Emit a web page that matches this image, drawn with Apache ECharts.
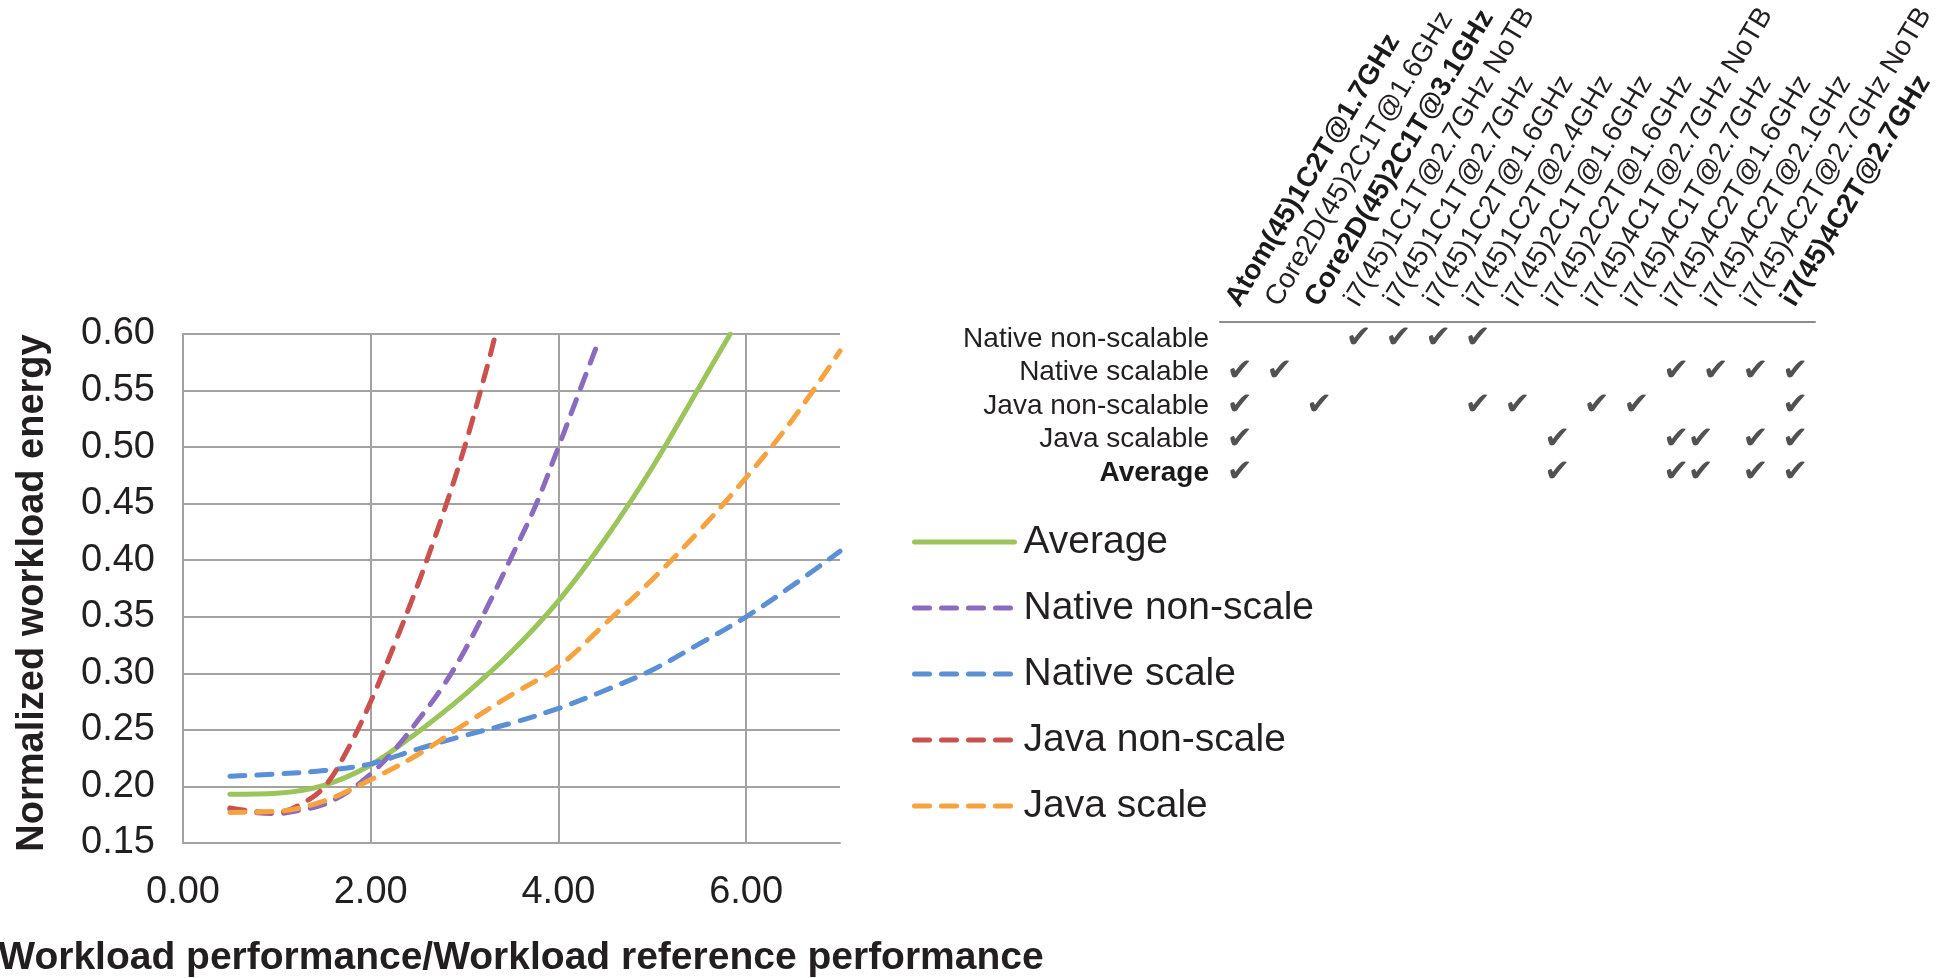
<!DOCTYPE html>
<html><head><meta charset="utf-8">
<script src="https://cdn.jsdelivr.net/npm/echarts@6/dist/echarts.min.js"></script>
<style>html,body{margin:0;padding:0;background:#fff}#c{width:1944px;height:978px}</style>
</head><body><div id="c"></div>
<script>
// ---- curve data (x = workload performance ratio, y = normalized energy)
const xAverage = [0.5, 1.0, 1.5, 2.0, 2.5, 3.0, 3.5, 4.0, 4.5, 5.0, 5.5, 5.83];
const yAverage = [0.193, 0.194, 0.201, 0.219, 0.248, 0.281, 0.319, 0.364, 0.419, 0.482, 0.553, 0.600];

const xNativeNonScale = [0.5, 0.75, 1.0, 1.25, 1.5, 1.75, 2.0, 2.25, 2.5, 2.75, 3.0, 3.25, 3.5, 3.75, 4.0, 4.25, 4.42];
const yNativeNonScale = [0.180, 0.177, 0.176, 0.179, 0.184, 0.195, 0.211, 0.232, 0.258, 0.286, 0.320, 0.360, 0.403, 0.447, 0.500, 0.555, 0.592];

const xNativeScale = [0.5, 1.0, 1.5, 2.0, 2.5, 3.0, 3.5, 4.0, 4.5, 5.0, 5.5, 6.0, 6.5, 7.0];
const yNativeScale = [0.209, 0.211, 0.214, 0.220, 0.233, 0.245, 0.256, 0.269, 0.285, 0.303, 0.326, 0.350, 0.378, 0.408];

const xJavaNonScale = [0.5, 0.75, 1.0, 1.25, 1.5, 1.75, 2.0, 2.25, 2.5, 2.75, 3.0, 3.25, 3.33];
const yJavaNonScale = [0.181, 0.178, 0.177, 0.184, 0.199, 0.232, 0.275, 0.325, 0.378, 0.436, 0.500, 0.574, 0.600];

const xJavaScale = [0.5, 1.0, 1.5, 2.0, 2.5, 3.0, 3.5, 4.0, 4.5, 5.0, 5.5, 6.0, 6.5, 7.0];
const yJavaScale = [0.177, 0.178, 0.187, 0.206, 0.228, 0.255, 0.281, 0.306, 0.344, 0.383, 0.426, 0.473, 0.525, 0.585];

const seriesNames = ['Average', 'Native non-scale', 'Native scale', 'Java non-scale', 'Java scale'];

// ---- axis ticks
const xMin = 0, xMax = 7, xStep = 2;
const yMin = 0.15, yMax = 0.60, yStep = 0.05;

// ---- configuration table
const machines = [
  'Atom(45)1C2T@1.7GHz', 'Core2D(45)2C1T@1.6GHz', 'Core2D(45)2C1T@3.1GHz',
  'i7(45)1C1T@2.7GHz NoTB', 'i7(45)1C1T@2.7GHz', 'i7(45)1C2T@1.6GHz', 'i7(45)1C2T@2.4GHz',
  'i7(45)2C1T@1.6GHz', 'i7(45)2C2T@1.6GHz', 'i7(45)4C1T@2.7GHz NoTB', 'i7(45)4C1T@2.7GHz',
  'i7(45)4C2T@1.6GHz', 'i7(45)4C2T@2.1GHz', 'i7(45)4C2T@2.7GHz NoTB', 'i7(45)4C2T@2.7GHz'
];
const boldMachines = [0, 2, 14];
const tableRows = ['Native non-scalable', 'Native scalable', 'Java non-scalable', 'Java scalable', 'Average'];
const checksNativeNonScalable = [3, 4, 5, 6];
const checksNativeScalable = [0, 1, 11, 12, 13, 14];
const checksJavaNonScalable = [0, 2, 6, 7, 9, 10, 14];
const checksJavaScalable = [0, 8, 11, 12, 13, 14];
const checksAverage = [0, 8, 11, 12, 13, 14];

const colors = ['#9BC45A', '#8A6BBE', '#5B8FD6', '#C9524E', '#F6A23F'];
const FONT = '"Liberation Sans", Arial, sans-serif';
const DASH = [15, 12];

const pairs = (xs, ys) => xs.map((x, i) => [x, ys[i]]);
const curveData = [
  pairs(xAverage, yAverage), pairs(xNativeNonScale, yNativeNonScale), pairs(xNativeScale, yNativeScale),
  pairs(xJavaNonScale, yJavaNonScale), pairs(xJavaScale, yJavaScale)
];
const checkRows = [checksNativeNonScalable, checksNativeScalable, checksJavaNonScalable, checksJavaScalable, checksAverage];
const checkData = [];
checkRows.forEach((cols, r) => cols.forEach(c => {
  // in the original typesetting the tick in column 12 of the last two rows hugs its left neighbour
  const tight = r >= 3 && c === 12;
  checkData.push(tight ? { value: [c, r], label: { offset: [-15, 0] } } : [c, r]);
}));

const lineSeries = seriesNames.map((name, i) => ({
  name, type: 'line', xAxisIndex: 0, yAxisIndex: 0,
  data: curveData[i], smooth: 0.35, symbol: 'none', showSymbol: false, clip: true,
  color: colors[i],
  lineStyle: { color: colors[i], width: 5, type: i === 0 ? 'solid' : DASH, cap: 'round' },
  z: i === 0 ? 3 : 4
}));

const grayGrid = '#a3a3a3';
const chart = echarts.init(document.getElementById('c'), null, { renderer: 'canvas' });
chart.setOption({
  backgroundColor: '#ffffff',
  animation: false,
  grid: [
    { left: 183, top: 334, width: 657, height: 509 },
    { left: 1220, top: 322, width: 595, height: 168 },
    { left: 1213, top: 322, width: 595, height: 1 }
  ],
  xAxis: [
    {
      type: 'value', gridIndex: 0, min: xMin, max: xMax, interval: xStep,
      axisLine: { show: true, lineStyle: { color: grayGrid, width: 2 } },
      axisTick: { show: false },
      axisLabel: { showMaxLabel: false, margin: 31, fontSize: 38, color: '#231f20', fontFamily: FONT,
        formatter: v => v.toFixed(2) },
      splitLine: { show: true, lineStyle: { color: [grayGrid, grayGrid, grayGrid, grayGrid, 'rgba(0,0,0,0)'], width: 2 } }
    },
    {
      type: 'category', gridIndex: 1, data: machines, position: 'top',
      axisLine: { show: true, lineStyle: { color: '#8c8c8c', width: 2 } },
      axisTick: { show: false }, axisLabel: { show: false }, splitLine: { show: false }
    },
    {
      type: 'category', gridIndex: 2, data: machines, position: 'top',
      axisLine: { show: false }, axisTick: { show: false }, splitLine: { show: false },
      axisLabel: {
        interval: 0, rotate: 59, margin: 18, fontSize: 28, color: '#231f20', fontFamily: FONT,
        formatter: (v, idx) => boldMachines.indexOf(idx) >= 0 ? '{b|' + v + '}' : v,
        rich: { b: { fontWeight: 'bold', fontSize: 28, color: '#1a1a1a', fontFamily: FONT } }
      }
    }
  ],
  yAxis: [
    {
      type: 'value', gridIndex: 0, min: yMin, max: yMax, interval: yStep,
      axisLine: { show: true, lineStyle: { color: grayGrid, width: 2 } },
      axisTick: { show: false },
      axisLabel: { margin: 28, fontSize: 38, color: '#231f20', fontFamily: FONT, formatter: v => v.toFixed(2) },
      splitLine: { show: true, lineStyle: { color: grayGrid, width: 2 } }
    },
    {
      type: 'category', gridIndex: 1, data: tableRows, inverse: true,
      axisLine: { show: false }, axisTick: { show: false }, splitLine: { show: false },
      axisLabel: {
        interval: 0, margin: 11, fontSize: 28, color: '#231f20', fontFamily: FONT,
        formatter: v => v === 'Average' ? '{b|' + v + '}' : v,
        rich: { b: { fontWeight: 'bold', fontSize: 28, color: '#1a1a1a', fontFamily: FONT } }
      }
    },
    { type: 'value', gridIndex: 2, show: false }
  ],
  legend: {
    data: seriesNames, orient: 'vertical', left: 907, top: 516,
    itemWidth: 100, itemHeight: 14, itemGap: 24,
    itemStyle: { color: 'rgba(0,0,0,0)', borderWidth: 0, opacity: 0 },
    lineStyle: { width: 5, cap: 'round' },
    textStyle: { fontSize: 39, color: '#231f20', fontFamily: FONT, lineHeight: 42, padding: [0, 0, 0, 4] }
  },
  series: lineSeries.concat([
    {
      type: 'scatter', xAxisIndex: 1, yAxisIndex: 1, data: checkData,
      symbol: 'circle', symbolSize: 1, itemStyle: { color: 'rgba(0,0,0,0)' },
      label: { show: true, position: 'inside', formatter: '\u2714', fontSize: 31, color: '#262626',
        fontFamily: '"DejaVu Sans", sans-serif' },
      silent: true
    }
  ]),
  graphic: [
    { type: 'text', x: 33, y: 593, rotation: Math.PI / 2,
      style: { text: 'Normalized workload energy', font: 'bold 38px "Liberation Sans", Arial, sans-serif',
        fill: '#231f20', align: 'center', verticalAlign: 'middle' } },
    { type: 'text', x: 521, y: 958,
      style: { text: 'Workload performance/Workload reference performance', font: 'bold 39px "Liberation Sans", Arial, sans-serif',
        fill: '#231f20', align: 'center', verticalAlign: 'middle' } }
  ]
});
</script></body></html>
